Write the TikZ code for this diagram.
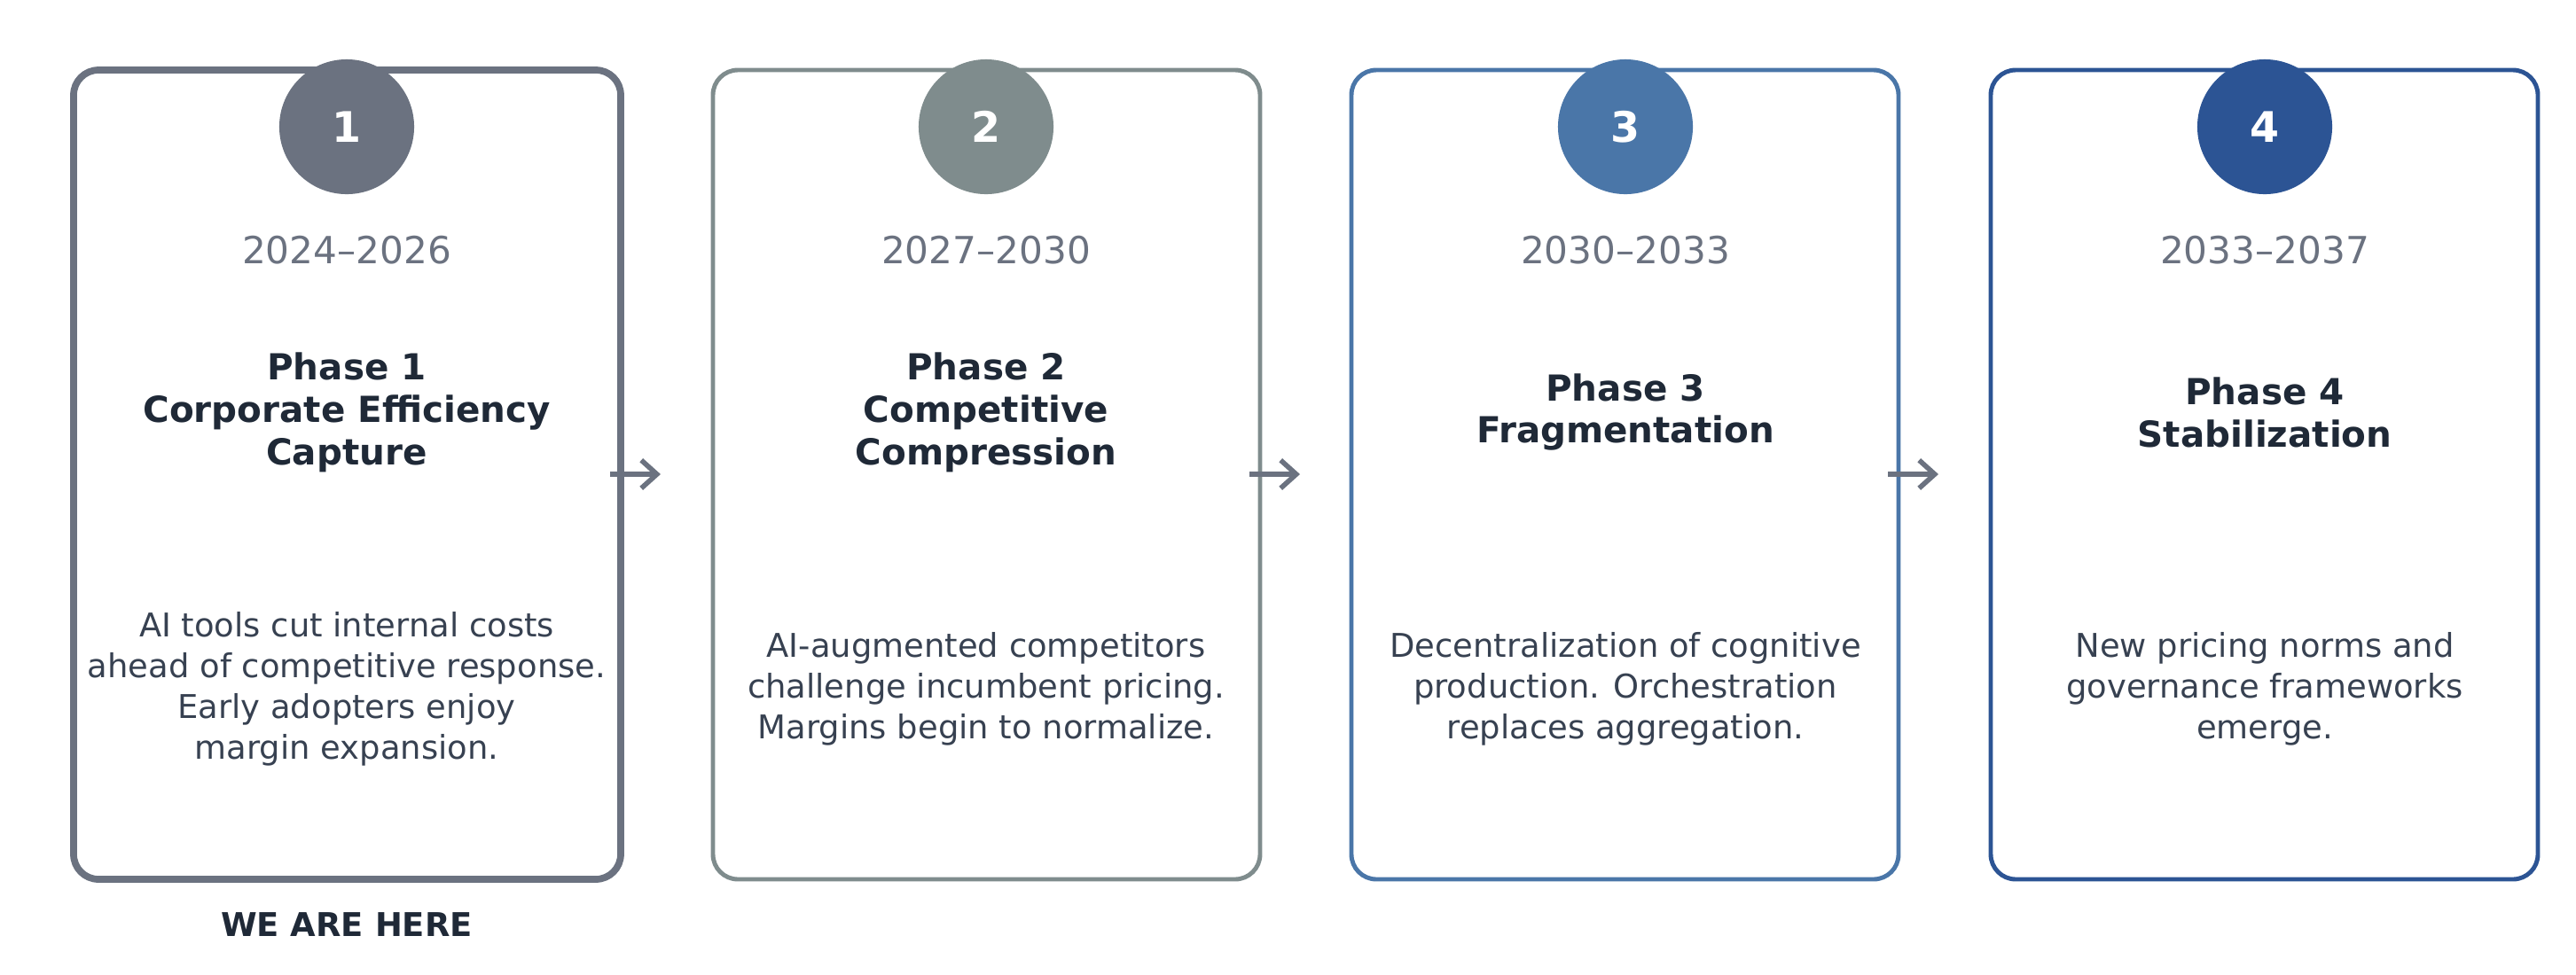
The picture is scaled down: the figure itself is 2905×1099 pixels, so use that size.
\documentclass[tikz,border=0pt]{standalone}
\usepackage{fontspec}
\setmainfont{DejaVu Sans}
\usetikzlibrary{arrows.meta}
\definecolor{cA}{HTML}{6B7280}
\definecolor{cB}{HTML}{7F8C8D}
\definecolor{cC}{HTML}{4A76A8}
\definecolor{cD}{HTML}{2C5494}
\definecolor{ttl}{HTML}{1F2937}
\definecolor{bod}{HTML}{374151}
\begin{document}
\begin{tikzpicture}[x=0.01cm,y=-0.01cm,
 card/.style={draw,line width=1.4pt,rounded corners=8pt,fill=white},
 num/.style={circle,minimum size=1.52cm,inner sep=0,text=white,font=\fontsize{13.5}{16}\selectfont\bfseries},
 year/.style={text=cA,font=\fontsize{12}{14}\selectfont},
 ttl/.style={text=ttl,align=center,font=\fontsize{11.5}{13.6}\selectfont\bfseries},
 bod/.style={text=bod,align=center,font=\fontsize{10.5}{13.05}\selectfont},
 arr/.style={-{Straight Barb[length=5pt,width=9pt]},line width=1.6pt,draw=cA}]
\useasboundingbox (0,0) rectangle (2905,1099);
\path[card,draw=cA,line width=2.2pt] (83,79) rectangle (700,992) coordinate (k1);
\path[card,draw=cB] (804,79) rectangle (1421,992);
\path[card,draw=cC] (1524,79) rectangle (2141,992);
\path[card,draw=cD] (2245,79) rectangle (2862,992);
\node[num,fill=cA] (n1) at (391,143) {1};
\node[num,fill=cB] (n2) at (1112,143) {2};
\node[num,fill=cC] (n3) at (1833,143) {3};
\node[num,fill=cD] (n4) at (2554,143) {4};
\node[year] (y1) at (391,282) {2024–2026};
\node[year] (y2) at (1112,282) {2027–2030};
\node[year] (y3) at (1833,282) {2030–2033};
\node[year] (y4) at (2554,282) {2033–2037};
\node[ttl] (t1) at (391,465) {Phase 1\\Corporate Efficiency\\Capture};
\node[ttl] (t2) at (1112,465) {Phase 2\\Competitive\\Compression};
\node[ttl] (t3) at (1833,465) {Phase 3\\Fragmentation};
\node[ttl] (t4) at (2554,465) {Phase 4\\Stabilization};
\node[bod] (b1) at (391,777) {AI tools cut internal costs\\ahead of competitive response.\\Early adopters enjoy\\margin expansion.};
\node[bod] (b2) at (1112,777) {AI-augmented competitors\\challenge incumbent pricing.\\Margins begin to normalize.};
\node[bod] (b3) at (1833,777) {Decentralization of cognitive\\production. Orchestration\\replaces aggregation.};
\node[bod] (b4) at (2554,777) {New pricing norms and\\governance frameworks\\emerge.};
\coordinate (a1s) at (688,535); \coordinate (a1e) at (745,535);
\coordinate (a2s) at (1409,535); \coordinate (a2e) at (1466,535);
\coordinate (a3s) at (2129,535); \coordinate (a3e) at (2186,535);
\draw[arr] (a1s) -- (a1e);
\draw[arr] (a2s) -- (a2e);
\draw[arr] (a3s) -- (a3e);
\node[text=ttl,font=\fontsize{10.5}{13}\selectfont\bfseries] (here) at (391,1043) {WE ARE HERE};
\end{tikzpicture}
\end{document}
